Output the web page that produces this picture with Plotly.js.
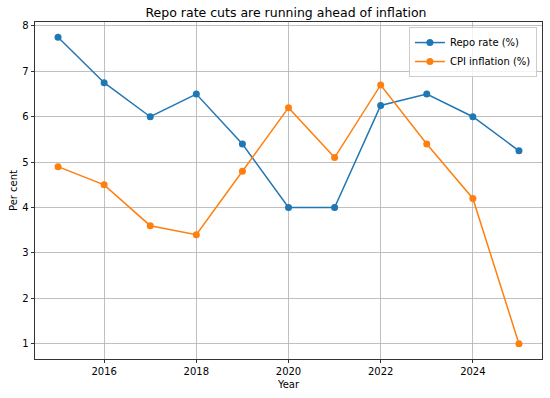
<!DOCTYPE html>
<html>
<head>
<meta charset="utf-8">
<script src="https://cdn.plot.ly/plotly-3.0.1.min.js"></script>
<style>html,body{margin:0;padding:0;background:#fff;}#chart{width:550px;height:398px;}</style>
</head>
<body>
<div id="chart"></div>
<script>
const years = [2015, 2016, 2017, 2018, 2019, 2020, 2021, 2022, 2023, 2024, 2025];
const repoRate = [7.75, 6.75, 6.0, 6.5, 5.4, 4.0, 4.0, 6.25, 6.5, 6.0, 5.25];
const cpiInflation = [4.9, 4.5, 3.6, 3.4, 4.8, 6.2, 5.1, 6.7, 5.4, 4.2, 1.0];
const xTicks = [2016, 2018, 2020, 2022, 2024];
const yTicks = [1, 2, 3, 4, 5, 6, 7, 8];

const font = 'DejaVu Sans, sans-serif';
const traces = [
  {x: years, y: repoRate, name: 'Repo rate (%)', type: 'scatter', mode: 'lines+markers',
   line: {color: '#1f77b4', width: 1.5}, marker: {color: '#1f77b4', size: 7}},
  {x: years, y: cpiInflation, name: 'CPI inflation (%)', type: 'scatter', mode: 'lines+markers',
   line: {color: '#ff7f0e', width: 1.5}, marker: {color: '#ff7f0e', size: 7}}
];
const layout = {
  width: 550, height: 398,
  margin: {l: 35, r: 7.5, t: 22, b: 39},
  paper_bgcolor: '#fff', plot_bgcolor: '#fff',
  font: {family: font, size: 10, color: '#000'},
  title: {text: 'Repo rate cuts are running ahead of inflation', font: {family: font, size: 12.5, color: '#000'},
          x: 0.52, xanchor: 'center', y: 0.968, yanchor: 'middle', yref: 'container'},
  xaxis: {range: [2014.5, 2025.5], tickvals: xTicks, ticktext: xTicks.map(String),
          showgrid: true, gridcolor: '#b0b0b0', gridwidth: 0.8, zeroline: false,
          showline: true, linecolor: '#000', linewidth: 0.8, mirror: true,
          ticks: 'outside', ticklen: 3.5, tickcolor: '#000', tickwidth: 0.8,
          tickfont: {family: font, size: 10, color: '#000'},
          title: {text: 'Year', font: {family: font, size: 10, color: '#000'}, standoff: 4}},
  yaxis: {range: [0.6625, 8.0875], tickvals: yTicks, ticktext: yTicks.map(String),
          showgrid: true, gridcolor: '#b0b0b0', gridwidth: 0.8, zeroline: false,
          showline: true, linecolor: '#000', linewidth: 0.8, mirror: true,
          ticks: 'outside', ticklen: 3.5, tickcolor: '#000', tickwidth: 0.8,
          tickfont: {family: font, size: 10, color: '#000'},
          title: {text: 'Per cent', font: {family: font, size: 10, color: '#000'}, standoff: 2}},
  legend: {x: 0.99, y: 0.985, xanchor: 'right', yanchor: 'top',
           bgcolor: 'rgba(255,255,255,0.8)', bordercolor: '#cccccc', borderwidth: 1,
           font: {family: font, size: 10, color: '#000'}, tracegroupgap: 0},
  showlegend: true
};
Plotly.newPlot('chart', traces, layout, {displayModeBar: false, staticPlot: true});
</script>
</body>
</html>
